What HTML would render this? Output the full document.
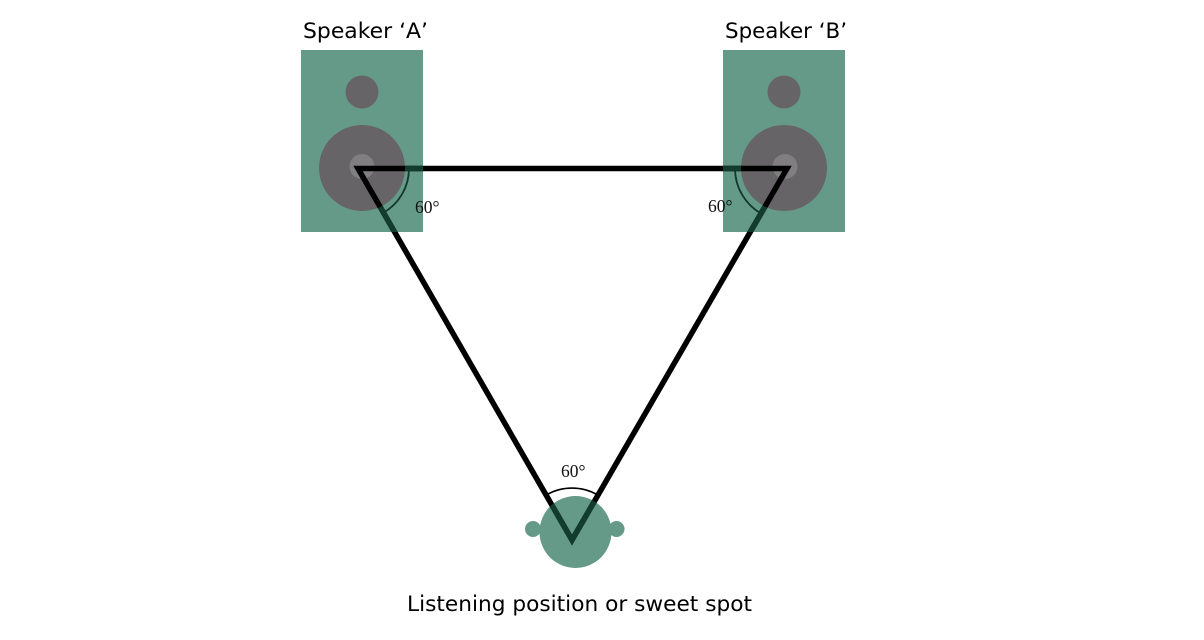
<!DOCTYPE html>
<html>
<head>
<meta charset="utf-8">
<style>
  html,body{margin:0;padding:0;background:#fff;}
  svg{display:block;}
</style>
</head>
<body>
<svg width="1204" height="640" viewBox="0 0 1204 640" xmlns="http://www.w3.org/2000/svg">
  <defs>
    <clipPath id="dk">
      <path clip-rule="evenodd" d="M301,50 H423 V232 H301 Z M319,168 a43,43 0 1,0 86,0 a43,43 0 1,0 -86,0 Z M723,50 H845 V232 H723 Z M741,168 a43,43 0 1,0 86,0 a43,43 0 1,0 -86,0 Z"/>
    </clipPath>
    <clipPath id="hd">
      <circle cx="575.5" cy="532" r="36"/>
    </clipPath>
  </defs>

  <!-- Speaker A -->
  <rect x="301" y="50" width="122" height="182" fill="#659a88"/>
  <circle cx="362" cy="92" r="16.5" fill="#666466"/>
  <circle cx="362" cy="168" r="43" fill="#666466"/>
  <circle cx="362" cy="166.5" r="12.5" fill="#807e80"/>

  <!-- Speaker B -->
  <rect x="723" y="50" width="122" height="182" fill="#659a88"/>
  <circle cx="784" cy="92" r="16.5" fill="#666466"/>
  <circle cx="784" cy="168" r="43" fill="#666466"/>
  <circle cx="785" cy="166.5" r="12.5" fill="#807e80"/>

  <!-- Head -->
  <circle cx="533" cy="529" r="8" fill="#659a88"/>
  <circle cx="616.5" cy="529" r="8" fill="#659a88"/>
  <circle cx="575.5" cy="532" r="36" fill="#659a88"/>

  <!-- Triangle + arcs (black) -->
  <g>
    <polygon points="358,168.5 787,168.5 572,540" fill="none" stroke="#000" stroke-width="5.5" stroke-linejoin="miter"/>
    <path d="M409,168.5 A51,51 0 0,1 383.5,212.7" fill="none" stroke="#000" stroke-width="1.6"/>
    <path d="M735,168.5 A52,52 0 0,0 761,213.5" fill="none" stroke="#000" stroke-width="1.6"/>
    <path d="M546,495 A52,52 0 0,1 598,495" fill="none" stroke="#000" stroke-width="1.6"/>
  </g>

  <!-- Dark green overlay portions -->
  <g clip-path="url(#dk)">
    <polygon points="358,168.5 787,168.5 572,540" fill="none" stroke="#123c2d" stroke-width="5.5" stroke-linejoin="miter"/>
    <path d="M409,168.5 A51,51 0 0,1 383.5,212.7" fill="none" stroke="#123c2d" stroke-width="1.6"/>
    <path d="M735,168.5 A52,52 0 0,0 761,213.5" fill="none" stroke="#123c2d" stroke-width="1.6"/>
  </g>
  <g clip-path="url(#hd)">
    <polygon points="358,168.5 787,168.5 572,540" fill="none" stroke="#123c2d" stroke-width="5.5" stroke-linejoin="miter"/>
    <path d="M546,495 A52,52 0 0,1 598,495" fill="none" stroke="#123c2d" stroke-width="1.6"/>
  </g>

  <!-- Angle labels -->
  <g font-family="'Liberation Serif', serif" font-size="17.5" fill="#111">
    <text x="415" y="213">60°</text>
    <text x="708" y="212">60°</text>
    <text x="561" y="477">60°</text>
  </g>

  <!-- Titles -->
  <g font-family="'DejaVu Sans', 'Liberation Sans', sans-serif" font-size="21" fill="#000">
    <text x="303" y="38" textLength="125" lengthAdjust="spacingAndGlyphs">Speaker ‘A’</text>
    <text x="725" y="38" textLength="122" lengthAdjust="spacingAndGlyphs">Speaker ‘B’</text>
    <text x="407" y="611" textLength="345" lengthAdjust="spacingAndGlyphs">Listening position or sweet spot</text>
  </g>
</svg>
</body>
</html>
